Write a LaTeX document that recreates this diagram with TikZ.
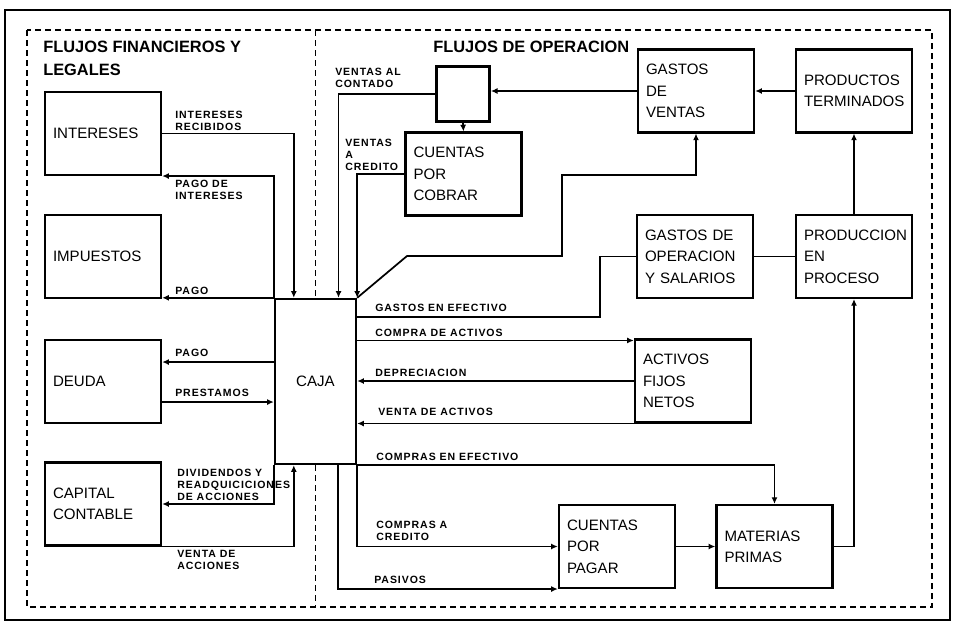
\documentclass[tikz,border=0pt]{standalone}
\usepackage{fontspec}
\setmainfont{Liberation Sans}
\newfontfamily\lblfamily[LetterSpace=9]{Liberation Sans}
\usetikzlibrary{arrows.meta}

\newcommand\boxfont{\fontsize{11.3}{16}\selectfont}
\newcommand\lblfont{\lblfamily\bfseries\fontsize{7.9}{8.8}\selectfont}
\newcommand\ttlfont{\bfseries\fontsize{12.3}{17}\selectfont}

\begin{document}
\begin{tikzpicture}[
  x=0.75pt, y=-0.75pt,
  box/.style={draw, line width=1.8pt, font=\boxfont, align=left,
    text width=75pt, inner xsep=6pt, minimum height=62pt},
  cashbox/.style={draw, line width=1.8pt, font=\boxfont,
    minimum width=60.75pt, minimum height=123.75pt},
  lbl/.style={font=\lblfont, align=left, anchor=west, inner sep=0pt},
  link/.style={line width=1.3pt},
  flow/.style={link, -{Latex[length=5pt,width=4.5pt]}},
  zone/.style={line width=1.1pt, dash pattern=on 4.5pt off 3pt}]
\useasboundingbox (0,0) rectangle (954,628);

% frames
\draw[line width=2pt] (5,10) rectangle (950,620);
\draw[zone] (27,30) rectangle (932,607);

% titles
\node[font=\ttlfont, align=left, anchor=north west, inner sep=0pt] (tfin) at (43,41)
  {FLUJOS FINANCIEROS Y\\LEGALES};
\node[font=\ttlfont, anchor=north west, inner sep=0pt] (tope) at (433,41)
  {FLUJOS DE OPERACION};

% left side
\node[box] (intereses) at (103,133.5) {INTERESES};
\node[box] (impuestos) at (103,256.5) {IMPUESTOS};
\node[box] (deuda) at (103,381.5) {DEUDA};
\node[box] (capital) at (103,504) {CAPITAL\\CONTABLE};
\node[cashbox] (caja) at (315.5,381.5) {CAJA};

% right side
\node[draw, line width=1.8pt, minimum width=40pt, minimum height=41pt] (split) at (463,94) {};
\node[box] (cxc) at (463.5,174) {CUENTAS\\POR\\COBRAR};
\node[box] (gventas) at (696,91) {GASTOS\\DE\\VENTAS};
\node[box] (prodterm) at (854,91) {PRODUCTOS\\TERMINADOS};
\node[box] (gop) at (695,256.5) {GASTOS DE\\OPERACION\\Y SALARIOS};
\node[box] (proceso) at (854,256.5) {PRODUCCION\\EN\\PROCESO};
\node[box] (activos) at (693,381) {ACTIVOS\\FIJOS\\NETOS};
\node[box] (cxp) at (617,546.5) {CUENTAS\\POR\\PAGAR};
\node[box] (materias) at (774.5,546.5) {MATERIAS\\PRIMAS};

% divider
\draw[zone] (315.5,30) -- (caja.north);
\draw[zone] (caja.south) -- (315.5,607);

% financial flows
\draw[flow] (intereses.east) -| ([xshift=15pt]caja.north west);
\draw[flow] (caja.north west) |- (intereses.south east);
\draw[flow] (caja.north west) -- (caja.north west -| impuestos.east);
\coordinate (dpay) at ([yshift=14.6pt]deuda.east);
\coordinate (dloan) at ([yshift=-15.4pt]deuda.east);
\draw[flow] (dpay -| caja.west) -- (dpay);
\draw[flow] (dloan) -- (dloan -| caja.west);
\draw[flow] (caja.south west) |- (capital.east);
\draw[flow] (capital.south east) -| ([xshift=15pt]caja.south west);

% operating flows
\draw[flow] (prodterm.west) -- (gventas.east);
\draw[flow] (gventas.west) -- (gventas.west -| split.east);
\draw[flow] (split.south) -- (cxc.north);
\draw[flow] (split.west) -| ([xshift=-14pt]caja.north east);
\draw[flow] (cxc.west) -| (caja.north east);
\coordinate (k1) at (407,256);
\coordinate (k2) at (562,175);
\draw[flow] (caja.north east) -- (k1) -| (k2) -| (gventas.south);
\coordinate (k3) at (600,317);
\draw[link] (k3 -| caja.east) -- (k3) |- (gop.west);
\draw[link] (gop.east) -- (proceso.west);
\draw[flow] (proceso.north) -- (prodterm.south);
\coordinate (cact) at ([yshift=-1.5pt]activos.north west);
\draw[flow] (cact -| caja.east) -- (cact);
\draw[flow] (activos.west) -- (activos.west -| caja.east);
\draw[flow] (activos.south west) -- (activos.south west -| caja.east);
\draw[flow] (caja.south east) -| (materias.north);
\draw[flow] (caja.south east) |- (cxp.west);
\draw[flow] ([xshift=-14.5pt]caja.south east) |- (cxp.south west);
\draw[flow] (cxp.east) -- (materias.west);
\draw[flow] (materias.east) -| (proceso.south);

% labels
\node[lbl] (lirec) at (175,121) {INTERESES\\RECIBIDOS};
\node[lbl] (lpint) at (175,190) {PAGO DE\\INTERESES};
\node[lbl] (limp) at (175,291) {PAGO};
\node[lbl] (ldpay) at (175,353) {PAGO};
\node[lbl] (lloan) at (175,393) {PRESTAMOS};
\node[lbl] (ldiv) at (177,485) {DIVIDENDOS Y\\READQUICICIONES\\DE ACCIONES};
\node[lbl] (lacc) at (177,560) {VENTA DE\\ACCIONES};
\node[lbl] (lcont) at (335,78) {VENTAS AL\\CONTADO};
\node[lbl] (lcred) at (345,155) {VENTAS\\A\\CREDITO};
\node[lbl] (lgef) at (375,308) {GASTOS EN EFECTIVO};
\node[lbl] (lcact) at (375,333) {COMPRA DE ACTIVOS};
\node[lbl] (ldep) at (375,373) {DEPRECIACION};
\node[lbl] (lvact) at (378,412) {VENTA DE ACTIVOS};
\node[lbl] (lcef) at (376,457) {COMPRAS EN EFECTIVO};
\node[lbl] (lccr) at (376,531) {COMPRAS A\\CREDITO};
\node[lbl] (lpas) at (374,580) {PASIVOS};
\end{tikzpicture}
\end{document}
